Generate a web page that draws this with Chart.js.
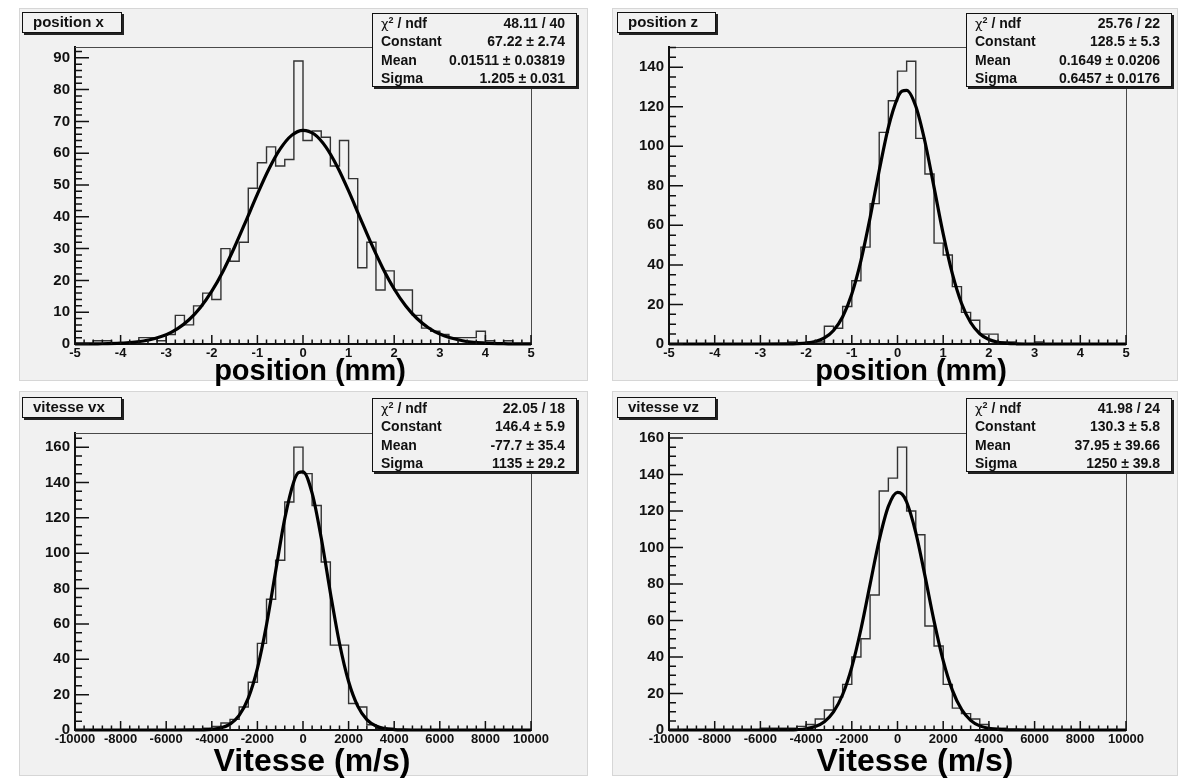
<!DOCTYPE html>
<html><head><meta charset="utf-8">
<script src="https://cdn.jsdelivr.net/npm/chart.js@4.4.1/dist/chart.umd.min.js"></script>
<style>
html,body{margin:0;padding:0;background:#fff;}
body{width:1188px;height:778px;overflow:hidden;position:relative;font-family:'Liberation Sans',Arial,sans-serif;color:#111;}
.pad{position:absolute;background:#f1f1f1;border:1px solid #d6d6d6;box-sizing:border-box;}
canvas{position:absolute;}
.tbox{position:absolute;box-sizing:border-box;border:1.5px solid #111;box-shadow:2px 2px 0 #222;background:#f1f1f1;font-weight:bold;font-size:15px;line-height:18px;padding-left:10px;white-space:nowrap;}
.stat{position:absolute;box-sizing:border-box;border:1.5px solid #111;box-shadow:2px 2px 0 #222;background:#f1f1f1;font-weight:bold;font-size:14px;padding:0 11px 0 8px;}
.stat .row{display:flex;justify-content:space-between;height:18.4px;line-height:18.4px;white-space:nowrap;}
.stat sup{font-size:9px;line-height:0;vertical-align:5px;}
.chi{font-weight:normal;font-family:'DejaVu Sans',sans-serif;font-size:13px;}
.atitle{position:absolute;font-weight:bold;line-height:1;white-space:nowrap;transform:translateX(-50%);color:#000;}
</style></head><body>
<script>
// ---------------- data ----------------
// histogram bin contents (50 bins each)
const binsPosX = [0,0,1,1,0,0,0,2,2,1, 3,9,6,12,16,14,30,26,32,49, 57,62,56,58,89,64,67,65,56,64, 52,24,32,17,23,17,17,9,5,4, 3,2,2,2,4,1,0,1,0,0];
const binsPosZ = [0,0,0,0,0,0,0,0,0,0, 0,0,0,1,0,1,1,9,8,19, 32,49,71,107,123,138,143,104,86,51, 45,29,16,12,5,5,1,1,0,0, 1,0,0,0,0,0,0,0,0,0];
const binsVx   = [0,0,0,0,0,0,0,0,0,0, 0,0,0,0,1,2,4,6,13,27, 49,74,96,129,160,145,127,95,48,48, 15,13,3,1,1,0,0,0,0,0, 0,0,0,0,0,0,0,0,0,0];
const binsVz   = [0,0,0,0,0,0,0,0,0,0, 1,1,1,1,2,3,6,11,18,25, 40,50,74,131,138,155,120,107,57,46, 25,12,9,6,3,1,1,0,0,0, 0,0,0,0,0,0,0,0,0,0];

// fitted gaussian curves, sampled (x, y)
const fitPosXx = [-5,-4.5,-4,-3.5,-3,-2.75,-2.5,-2.25,-2,-1.75,-1.5,-1.25,-1,-0.75,-0.5,-0.25,0,0.25,0.5,0.75,1,1.25,1.5,1.75,2,2.25,2.5,2.75,3,3.5,4,4.5,5];
const fitPosXy = [0.01,0.06,0.26,0.95,2.94,4.83,7.62,11.49,16.61,22.99,30.5,38.73,47.14,54.95,61.35,65.61,67.21,65.95,61.99,55.81,48.13,39.76,31.46,23.84,17.31,12.04,8.02,5.12,3.13,1.03,0.28,0.07,0.01];
const fitPosZx = [-5,-3,-2.4,-2.2,-2,-1.8,-1.6,-1.4,-1.2,-1,-0.8,-0.6,-0.4,-0.2,0,0.1,0.2,0.4,0.6,0.8,1,1.2,1.4,1.6,1.8,2,2.2,2.4,2.6,3,5];
const fitPosZy = [0,0,0.05,0.16,0.47,1.26,3.08,6.84,13.81,25.31,42.18,63.81,87.77,109.6,124.4,127.85,128.31,120.26,102.4,79.22,55.68,35.55,20.63,10.87,5.2,2.27,0.9,0.32,0.11,0.01,0];
const fitVxX = [-10000,-6000,-4800,-4400,-4000,-3600,-3200,-2800,-2400,-2000,-1600,-1200,-800,-400,-200,0,400,800,1200,1600,2000,2400,2800,3200,3600,4000,4400,4800,6000,10000];
const fitVxY = [0,0,0.03,0.10,0.37,1.19,3.33,8.25,18.05,34.89,59.56,89.79,119.57,140.62,145.55,146.06,133.99,108.57,77.69,49.10,27.41,13.52,5.88,2.26,0.77,0.23,0.06,0.01,0,0];
const fitVzX = [-10000,-6000,-5200,-4800,-4400,-4000,-3600,-3200,-2800,-2400,-2000,-1600,-1200,-800,-400,0,200,400,800,1200,1600,2000,2400,2800,3200,3600,4000,4400,4800,5200,6000,10000];
const fitVzY = [0,0,0.02,0.07,0.24,0.71,1.89,4.55,9.90,19.45,34.49,55.22,79.80,104.08,122.55,130.24,129.21,124.95,108.20,84.59,59.68,38.01,21.85,11.35,5.31,2.25,0.86,0.30,0.09,0.03,0,0];

// tick labels
const xTicksPos = [-5,-4,-3,-2,-1,0,1,2,3,4,5];
const xTicksVel = [-10000,-8000,-6000,-4000,-2000,0,2000,4000,6000,8000,10000];
const yTicksPosX = [0,10,20,30,40,50,60,70,80,90];
const yTicksPosZ = [0,20,40,60,80,100,120,140];
const yTicksVx = [0,20,40,60,80,100,120,140,160];
const yTicksVz = [0,20,40,60,80,100,120,140,160];

// texts
const titles = ['position x','position z','vitesse vx','vitesse vz'];
const axisTitles = ['position (mm)','position (mm)','Vitesse (m/s)','Vitesse (m/s)'];
const statNames = ['CHI','Constant','Mean','Sigma'];
const statPosX = ['48.11 / 40','67.22 \u00b1 2.74','0.01511 \u00b1 0.03819','1.205 \u00b1 0.031'];
const statPosZ = ['25.76 / 22','128.5 \u00b1 5.3','0.1649 \u00b1 0.0206','0.6457 \u00b1 0.0176'];
const statVx = ['22.05 / 18','146.4 \u00b1 5.9','-77.7 \u00b1 35.4','1135 \u00b1 29.2'];
const statVz = ['41.98 / 24','130.3 \u00b1 5.8','37.95 \u00b1 39.66','1250 \u00b1 39.8'];

// ---------------- layout ----------------
const panels = [
 {pad:[19,8,588,381], frame:[75,47,531,344], tbox:[22,12,100,21], sbox:[372,13,205,74], atx:[310,381,29],
  xMin:-5,xMax:5,binW:0.2,yMax:93.4,counts:binsPosX,fx:fitPosXx,fy:fitPosXy,xt:xTicksPos,yt:yTicksPosX,xm:0.2,ym:2,stat:statPosX},
 {pad:[612,8,1178,381], frame:[669,47,1126,344], tbox:[617,12,99,21], sbox:[966,13,206,74], atx:[911,381,29],
  xMin:-5,xMax:5,binW:0.2,yMax:150.2,counts:binsPosZ,fx:fitPosZx,fy:fitPosZy,xt:xTicksPos,yt:yTicksPosZ,xm:0.2,ym:5,stat:statPosZ},
 {pad:[19,391,588,776], frame:[75,433,531,730], tbox:[22,397,100,21], sbox:[372,398,205,74], atx:[312,771,32],
  xMin:-10000,xMax:10000,binW:400,yMax:168,counts:binsVx,fx:fitVxX,fy:fitVxY,xt:xTicksVel,yt:yTicksVx,xm:400,ym:5,stat:statVx},
 {pad:[612,391,1178,776], frame:[669,433,1126,730], tbox:[617,397,99,21], sbox:[966,398,206,74], atx:[915,771,32],
  xMin:-10000,xMax:10000,binW:400,yMax:162.75,counts:binsVz,fx:fitVzX,fy:fitVzY,xt:xTicksVel,yt:yTicksVz,xm:400,ym:5,stat:statVz}
];

const rootAxes = {
  id:'rootAxes',
  afterDraw(chart){
    const p = chart.options.plugins.rootAxes;
    const {ctx, chartArea:a, scales:{x,y}} = chart;
    ctx.save();
    ctx.strokeStyle='#4a4a4a'; ctx.lineWidth=1;
    ctx.beginPath();
    ctx.moveTo(a.left, Math.round(a.top)+0.5);
    ctx.lineTo(Math.round(a.right)+0.5, Math.round(a.top)+0.5);
    ctx.lineTo(Math.round(a.right)+0.5, a.bottom);
    ctx.stroke();
    ctx.strokeStyle='#111'; ctx.lineWidth=1.5;
    ctx.beginPath();
    const nX = Math.round((p.xMax-p.xMin)/p.xm);
    for(let i=0;i<=nX;i++){
      const v = p.xMin + i*p.xm;
      const px = x.getPixelForValue(v);
      const major = p.xt.some(t=>Math.abs(t-v)<1e-6);
      ctx.moveTo(px, a.bottom); ctx.lineTo(px, a.bottom-(major?9:4.5));
    }
    const nY = Math.floor(p.yMax/p.ym + 1e-9);
    for(let i=0;i<=nY;i++){
      const v = i*p.ym;
      const py = y.getPixelForValue(v);
      const major = p.yt.some(t=>Math.abs(t-v)<1e-6);
      ctx.moveTo(a.left, py); ctx.lineTo(a.left+(major?14:7), py);
    }
    ctx.stroke();
    ctx.restore();
  }
};

const lblFont = {family:"'Liberation Sans', Arial, sans-serif", weight:'bold', size:13};

panels.forEach((P, idx)=>{
  const [px0,py0,px1,py1] = P.pad;
  const W = px1-px0, H = py1-py0;
  const pad = document.createElement('div');
  pad.className='pad';
  Object.assign(pad.style,{left:px0+'px',top:py0+'px',width:W+'px',height:H+'px'});
  document.body.appendChild(pad);

  const cv = document.createElement('canvas');
  cv.width=W; cv.height=H;
  Object.assign(cv.style,{left:px0+'px',top:py0+'px',width:W+'px',height:H+'px'});
  document.body.appendChild(cv);

  const [fl,ft,fr,fb] = P.frame;
  const yW = fl-px0, topPad = ft-py0, rightPad = W-(fr-px0), xH = H-(fb-py0);

  const hist = P.counts.map((c,i)=>({x:P.xMin+i*P.binW, y:c}));
  hist.push({x:P.xMax, y:P.counts[P.counts.length-1]});
  const fit = P.fx.map((v,i)=>({x:v, y:P.fy[i]}));

  new Chart(cv, {
    type:'line',
    data:{datasets:[
      {data:fit, borderColor:'#000', borderWidth:3.2, pointRadius:0, cubicInterpolationMode:'monotone', fill:false, clip:4},
      {data:hist, borderColor:'#333', borderWidth:1.4, pointRadius:0, stepped:true, fill:false}
    ]},
    options:{
      responsive:false, animation:false, devicePixelRatio:1,
      layout:{padding:{left:0, top:topPad, right:rightPad, bottom:0}},
      plugins:{legend:{display:false}, tooltip:{enabled:false}, title:{display:false},
        rootAxes:{xMin:P.xMin,xMax:P.xMax,xm:P.xm,ym:P.ym,yMax:P.yMax,xt:P.xt,yt:P.yt}},
      scales:{
        x:{type:'linear', min:P.xMin, max:P.xMax,
           grid:{display:false, drawTicks:false},
           border:{display:true, color:'#111', width:2},
           afterBuildTicks:s=>{s.ticks=P.xt.map(v=>({value:v}));},
           afterFit:s=>{s.height=xH;},
           ticks:{padding:2, font:lblFont, color:'#111', autoSkip:false, maxRotation:0, minRotation:0,
                  callback:v=>String(v)}},
        y:{type:'linear', min:0, max:P.yMax,
           grid:{display:false, drawTicks:false},
           border:{display:true, color:'#111', width:2},
           afterBuildTicks:s=>{s.ticks=P.yt.map(v=>({value:v}));},
           afterFit:s=>{s.width=yW;},
           ticks:{padding:5, font:{...lblFont, size:15}, color:'#111', callback:v=>String(v)}}
      }
    },
    plugins:[rootAxes]
  });

  // title box
  const tb = document.createElement('div');
  tb.className='tbox'; tb.textContent = titles[idx];
  const [tx,ty,tw,th] = P.tbox;
  Object.assign(tb.style,{left:tx+'px',top:ty+'px',width:tw+'px',height:th+'px'});
  document.body.appendChild(tb);

  // stat box
  const sb = document.createElement('div');
  sb.className='stat';
  const [sx,sy,sw,sh] = P.sbox;
  Object.assign(sb.style,{left:sx+'px',top:sy+'px',width:sw+'px',height:sh+'px'});
  statNames.forEach((n,j)=>{
    const r = document.createElement('div'); r.className='row';
    const l = document.createElement('span');
    if(n==='CHI'){ l.innerHTML='<span class="chi">\u03c7</span><sup>2</sup> / ndf'; }
    else l.textContent=n;
    const v = document.createElement('span'); v.textContent=P.stat[j];
    r.appendChild(l); r.appendChild(v); sb.appendChild(r);
  });
  document.body.appendChild(sb);

  // axis title
  const at = document.createElement('div');
  at.className='atitle'; at.textContent = axisTitles[idx];
  const fs = P.atx[2];
  Object.assign(at.style,{left:P.atx[0]+'px', top:(P.atx[1]-0.85*fs)+'px', fontSize:fs+'px'});
  document.body.appendChild(at);
});
</script>
</body></html>
